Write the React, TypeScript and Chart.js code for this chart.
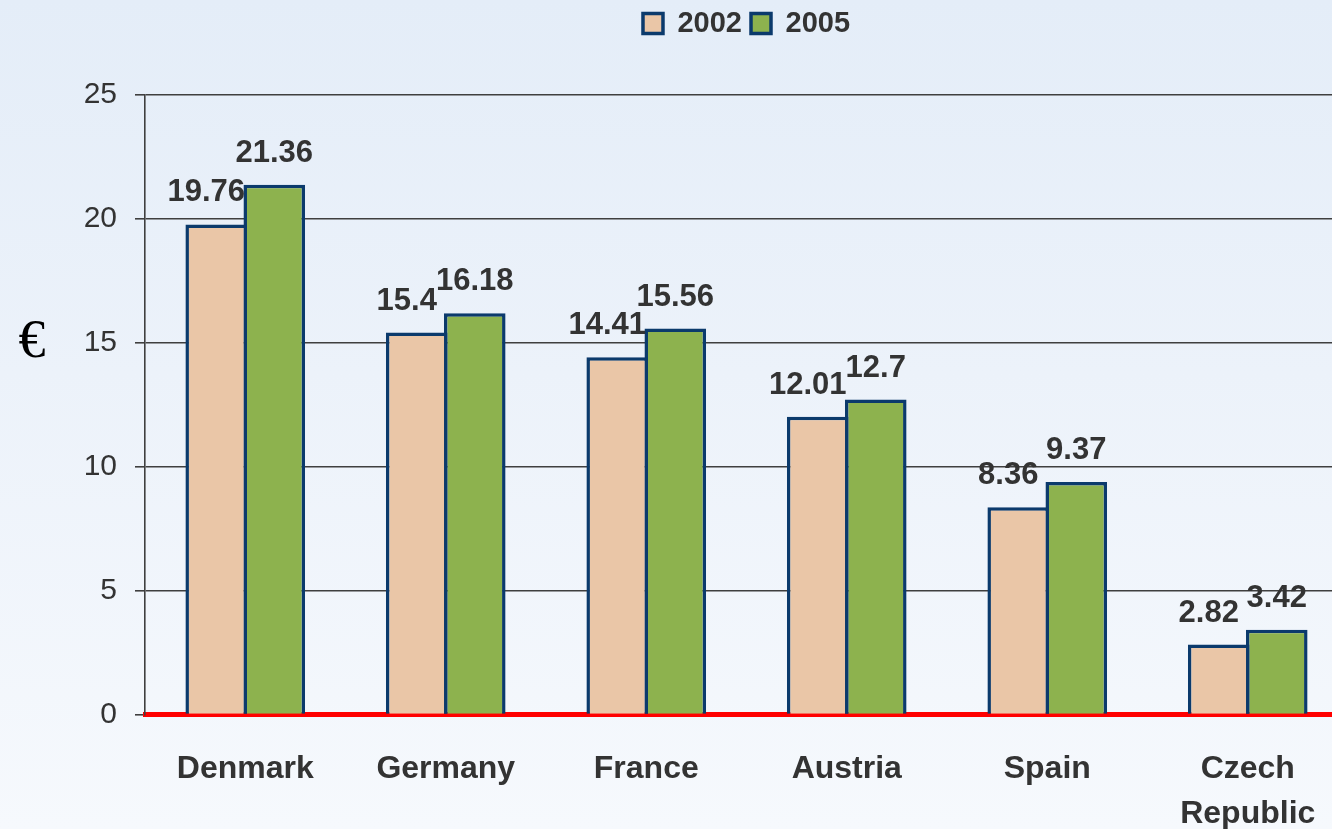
import React, { useEffect, useRef } from "react";
import { Chart, registerables } from "chart.js";

Chart.register(...registerables);

const categories: (string | string[])[] = ["Denmark", "Germany", "France", "Austria", "Spain", ["Czech", "Republic"]];
const series2002: number[] = [19.76, 15.4, 14.41, 12.01, 8.36, 2.82];
const series2005: number[] = [21.36, 16.18, 15.56, 12.7, 9.37, 3.42];
const seriesNames: string[] = ["2002", "2005"];
const yTicks: number[] = [0, 5, 10, 15, 20, 25];
const yAxisLabel = "€";

const valueLabelsPlugin = {
  id: "valueLabels",
  afterDatasetsDraw(chart: any) {
    const ctx = chart.ctx;
    ctx.save();
    ctx.font = "bold 31px 'Liberation Sans', Arial, sans-serif";
    ctx.fillStyle = "#333333";
    ctx.textAlign = "center";
    ctx.textBaseline = "alphabetic";
    chart.data.datasets.forEach((ds: any, di: number) => {
      const meta = chart.getDatasetMeta(di);
      const shift = di === 0 ? -10 : 0;
      meta.data.forEach((bar: any, i: number) => {
        const v = ds.data[i];
        ctx.fillText(String(v), bar.x + shift, bar.y - 23);
      });
    });
    ctx.restore();
  },
};

const euroPlugin = {
  id: "euroLabel",
  afterDraw(chart: any) {
    const ctx = chart.ctx;
    const a = chart.chartArea;
    ctx.save();
    ctx.font = "54px 'Liberation Serif', 'Times New Roman', serif";
    ctx.fillStyle = "#000000";
    ctx.textAlign = "center";
    ctx.textBaseline = "middle";
    ctx.fillText(yAxisLabel, a.left - 113, a.top + (a.bottom - a.top) * 0.4);
    ctx.restore();
  },
};

export default function App() {
  const ref = useRef<HTMLCanvasElement | null>(null);

  useEffect(() => {
    document.body.style.margin = "0";
    if (!ref.current) return;
    const chart = new Chart(ref.current, {
      type: "bar",
      data: {
        labels: categories,
        datasets: [
          {
            label: seriesNames[0],
            data: series2002,
            backgroundColor: "#eac6a7",
            borderColor: "#0b3a6c",
            borderWidth: 3.5,
            borderSkipped: "bottom",
            categoryPercentage: 0.579,
            barPercentage: 1.061,
          },
          {
            label: seriesNames[1],
            data: series2005,
            backgroundColor: "#8db24e",
            borderColor: "#0b3a6c",
            borderWidth: 3.5,
            borderSkipped: "bottom",
            categoryPercentage: 0.579,
            barPercentage: 1.061,
          },
        ],
      },
      options: {
        animation: false,
        responsive: false,
        maintainAspectRatio: false,
        layout: { padding: { top: 0, right: 0, left: 0, bottom: 0 } },
        plugins: {
          legend: {
            display: true,
            position: "top",
            fullSize: false,
            labels: {
              font: { family: "'Liberation Sans', Arial, sans-serif", size: 29, weight: "bold" },
              color: "#333333",
              boxWidth: 20,
              boxHeight: 20,
              padding: 9,
            },
          },
          title: {
            display: true,
            text: " ",
            weight: 500,
            font: { size: 10, lineHeight: 1 },
            padding: { top: 18, bottom: 18.5 },
          },
          tooltip: { enabled: false },
        },
        scales: {
          x: {
            grid: { display: false, drawTicks: false },
            border: { display: true, color: "#ff0000", width: 5 },
            ticks: {
              font: { family: "'Liberation Sans', Arial, sans-serif", size: 32, weight: "bold", lineHeight: 1.4 },
              color: "#333333",
              padding: 32,
              maxRotation: 0,
              autoSkip: false,
            },
            afterFit: (scale: any) => {
              scale.height = 114.5;
            },
          },
          y: {
            min: 0,
            max: 25,
            afterBuildTicks: (scale: any) => {
              scale.ticks = yTicks.map((v) => ({ value: v }));
            },
            grid: { color: "#3f3f3f", lineWidth: 1.6, tickLength: 10, tickColor: "#3f3f3f" },
            border: { display: true, color: "#3f3f3f", width: 1.6 },
            ticks: {
              font: { family: "'Liberation Sans', Arial, sans-serif", size: 30 },
              color: "#333333",
              padding: 18,
            },
            afterFit: (scale: any) => {
              scale.width = 145;
            },
          },
        },
      },
      plugins: [valueLabelsPlugin, euroPlugin],
    });
    return () => chart.destroy();
  }, []);

  return (
    <div
      style={{
        position: "absolute",
        left: 0,
        top: 0,
        width: 1332,
        height: 829,
        overflow: "hidden",
        background: "linear-gradient(180deg, #e4edf8 0%, #ecf2fa 45%, #f6f9fd 100%)",
      }}
    >
      <canvas ref={ref} width={1348} height={829} style={{ display: "block", width: 1348, height: 829 }} />
    </div>
  );
}
